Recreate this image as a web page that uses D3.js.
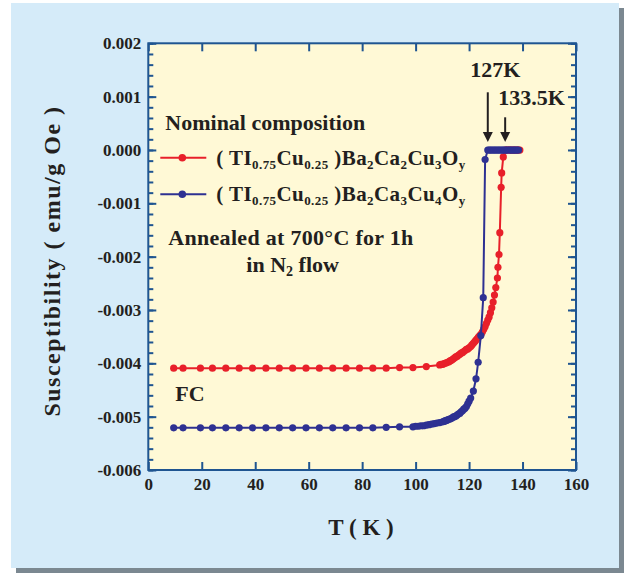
<!DOCTYPE html>
<html>
<head>
<meta charset="utf-8">
<script src="https://cdn.jsdelivr.net/npm/d3@7"></script>
<style>
  body { margin: 0; background: #fff; }
  text { font-family: "Liberation Serif", "Times New Roman", serif; font-weight: bold; fill: #231f20; }
</style>
</head>
<body>
<div id="chart"></div>
<script>
// temperatures (K) and susceptibility (emu/g Oe)
const tempCu3 = [9.5, 13, 19.5, 24, 29, 34, 39, 44, 49, 54, 59, 64, 69, 74, 79, 84, 89, 94, 99, 104,
  109, 109.5, 110, 110.5, 111, 111.5, 112, 112.5, 113, 113.5, 114, 114.5, 115, 115.5, 116, 116.5,
  117, 117.5, 118, 118.5, 119, 119.5, 120, 120.5, 121, 121.5, 122, 122.5, 123, 123.5, 124, 124.5,
  125, 125.5, 126, 126.5, 127, 127.5, 128, 128.5, 129, 129.5, 130,
  130.6, 130.8, 131.2, 131.5, 132, 132.2, 132.8,
  133.5, 134, 134.5, 135, 135.5, 136, 136.5, 137, 137.5, 138, 138.5, 139];
const chiCu3 = [-0.00409, -0.00409, -0.00409, -0.00409, -0.00409, -0.00409, -0.00409, -0.00409, -0.00409, -0.00409,
  -0.00409, -0.00409, -0.00409, -0.00409, -0.00409, -0.00409, -0.00409, -0.00408, -0.00408, -0.00406,
  -0.00403, -0.00402, -0.00402, -0.00401, -0.00400, -0.00399, -0.00398, -0.00397, -0.00395, -0.00394,
  -0.00392, -0.00390, -0.00388, -0.00387, -0.00385, -0.00383, -0.00381, -0.00380, -0.00378, -0.00376,
  -0.00374, -0.00373, -0.00371, -0.00369, -0.00366, -0.00363, -0.00360, -0.00357, -0.00354, -0.00351,
  -0.00348, -0.00345, -0.00341, -0.00336, -0.00331, -0.00325, -0.00319, -0.00313, -0.00305, -0.00296,
  -0.00285, -0.00272, -0.00258,
  -0.00240, -0.00220, -0.00196, -0.00155, -0.00070, -0.00043, -0.00013,
  0, 0, 0, 0, 0, 0, 0, 0, 0, 0, 0, 0];

const tempCu4 = [9.5, 13, 19.5, 24, 29, 34, 39, 44, 49, 54, 59, 64, 69, 74, 79, 84, 89, 94,
  99, 100, 101, 102, 103, 104, 105, 106, 107, 108, 109, 110, 110.5, 111, 111.5, 112, 112.5, 113,
  113.5, 114, 114.5, 115, 115.5, 116, 116.5, 117, 117.5, 118, 118.5, 119, 119.5, 120,
  120.6, 121.6, 122.6, 123.4, 124.4, 125.3, 126,
  127, 127.5, 128, 128.5, 129, 129.5, 130, 130.5, 131, 131.5, 132, 132.5, 133, 133.5, 134,
  134.5, 135, 135.5, 136, 136.5, 137, 137.5, 138, 138.5];
const chiCu4 = [-0.00521, -0.00521, -0.00521, -0.00521, -0.00521, -0.00521, -0.00521, -0.00521, -0.00521,
  -0.00521, -0.00521, -0.00521, -0.00521, -0.00521, -0.00521, -0.00521, -0.00520, -0.00519,
  -0.00519, -0.00518, -0.00518, -0.00517, -0.00517, -0.00516, -0.00515, -0.00514, -0.00513, -0.00512,
  -0.00511, -0.00510, -0.00509, -0.00508, -0.00507, -0.00506, -0.00505, -0.00504, -0.00503, -0.00501,
  -0.00500, -0.00499, -0.00497, -0.00495, -0.00494, -0.00491, -0.00489, -0.00486, -0.00484, -0.00481,
  -0.00476, -0.00471,
  -0.00465, -0.00452, -0.00429, -0.00398, -0.00348, -0.00277, -0.00018,
  0, 0, 0, 0, 0, 0, 0, 0, 0, 0, 0, 0, 0, 0, 0, 0, 0, 0, 0, 0, 0, 0, 0, 0, 0, 0];

const xTicks = [0, 20, 40, 60, 80, 100, 120, 140, 160];
const yTicks = [-0.006, -0.005, -0.004, -0.003, -0.002, -0.001, 0, 0.001, 0.002];
const yMinorTicks = d3.range(-0.006, 0.0021, 0.0002);

// legend text pieces: [text, isSubscript]
const labelCu3 = [["( TI", 0], ["0.75", 1], ["Cu", 0], ["0.25", 1], [" )Ba", 0], ["2", 1], ["Ca", 0], ["2", 1], ["Cu", 0], ["3", 1], ["O", 0], ["y", 1]];
const labelCu4 = [["( TI", 0], ["0.75", 1], ["Cu", 0], ["0.25", 1], [" )Ba", 0], ["2", 1], ["Ca", 0], ["3", 1], ["Cu", 0], ["4", 1], ["O", 0], ["y", 1]];

const red = '#e8202a';
const blue = '#2e3192';
const axisColor = '#1f5591';

const W = 624, H = 574;
const margin = { top: 43.3, right: 48, bottom: 104, left: 148.3 };
const width = W - margin.left - margin.right;
const height = H - margin.top - margin.bottom;

const svg = d3.select('#chart').append('svg')
  .attr('width', W)
  .attr('height', H);

// panel with drop shadow
svg.append('rect').attr('x', 16).attr('y', 8).attr('width', 608).attr('height', 565).attr('fill', '#7b8891');
svg.append('rect').attr('x', 11).attr('y', 3).attr('width', 608).attr('height', 565).attr('fill', '#d5ebf9');

const g = svg.append('g')
  .attr('transform', 'translate(' + margin.left + ',' + margin.top + ')');

const x = d3.scaleLinear().domain([0, 160]).range([0, width]);
const y = d3.scaleLinear().domain([-0.006, 0.002]).range([height, 0]);

g.append('rect')
  .attr('width', width).attr('height', height)
  .attr('fill', '#fff9d6');

// axes, ticks all pointing inward
function styleAxis(sel) {
  sel.select('.domain').remove();
  sel.selectAll('line').attr('stroke', axisColor).attr('stroke-width', 2);
  sel.selectAll('text').attr('font-size', 17).attr('fill', '#231f20');
}

g.append('g').call(d3.axisLeft(y).tickValues(yMinorTicks).tickSize(-5).tickFormat('')).call(styleAxis);
g.append('g').call(d3.axisLeft(y).tickValues(yTicks).tickSize(-8).tickPadding(7)
  .tickFormat(d => d.toFixed(3))).call(styleAxis);
g.append('g').attr('transform', 'translate(' + width + ',0)')
  .call(d3.axisRight(y).tickValues(yMinorTicks).tickSize(-5).tickFormat('')).call(styleAxis);
g.append('g').attr('transform', 'translate(' + width + ',0)')
  .call(d3.axisRight(y).tickValues(yTicks).tickSize(-8).tickFormat('')).call(styleAxis);
g.append('g').attr('transform', 'translate(0,' + height + ')')
  .call(d3.axisBottom(x).tickValues(xTicks).tickSize(-8).tickPadding(8)).call(styleAxis);
g.append('g')
  .call(d3.axisTop(x).tickValues(xTicks).tickSize(-8).tickFormat('')).call(styleAxis);

g.append('rect')
  .attr('width', width).attr('height', height)
  .attr('fill', 'none').attr('stroke', axisColor).attr('stroke-width', 2);

// curves
const line = d3.line()
  .x(d => x(d[0]))
  .y(d => y(d[1]));

const series = [
  { data: d3.zip(tempCu3, chiCu3), color: red },
  { data: d3.zip(tempCu4, chiCu4), color: blue }
];

series.forEach(s => {
  g.append('path')
    .datum(s.data)
    .attr('fill', 'none')
    .attr('stroke', s.color)
    .attr('stroke-width', 2)
    .attr('d', line);
  g.append('g').selectAll('circle')
    .data(s.data)
    .enter().append('circle')
    .attr('cx', d => x(d[0]))
    .attr('cy', d => y(d[1]))
    .attr('r', 3.6)
    .attr('fill', s.color);
});

// legend
g.append('text').attr('x', 17).attr('y', 87).attr('font-size', 22).text('Nominal composition');

function legendRow(yy, color, parts) {
  g.append('line').attr('x1', 12).attr('x2', 58).attr('y1', yy).attr('y2', yy)
    .attr('stroke', color).attr('stroke-width', 2);
  g.append('circle').attr('cx', 34).attr('cy', yy).attr('r', 3.8).attr('fill', color);
  const t = g.append('text').attr('x', 68).attr('y', yy + 7).attr('font-size', 21)
    .attr('textLength', 249).attr('lengthAdjust', 'spacing');
  let sub = false;
  parts.forEach(p => {
    const ts = t.append('tspan').text(p[0]);
    if (p[1] && !sub) { ts.attr('dy', 4).attr('font-size', 13); sub = true; }
    else if (p[1]) { ts.attr('font-size', 13); }
    else if (sub) { ts.attr('dy', -4); sub = false; }
  });
}
legendRow(y(0) + 7.7, red, labelCu3);
legendRow(y(0) + 44.3, blue, labelCu4);

g.append('text').attr('x', 20).attr('y', 202).attr('font-size', 22)
  .attr('textLength', 245).attr('lengthAdjust', 'spacing')
  .text('Annealed at 700°C for 1h');
const ann2 = g.append('text').attr('x', 98).attr('y', 229).attr('font-size', 22);
ann2.append('tspan').text('in N');
ann2.append('tspan').attr('dy', 4).attr('font-size', 14).text('2');
ann2.append('tspan').attr('dy', -4).text(' flow');

g.append('text').attr('x', 27).attr('y', 358).attr('font-size', 22).text('FC');

// Tc arrows
function arrow(T, yTop, label, lx, ly) {
  const ax = x(T);
  const tip = y(0) - 8;
  g.append('line').attr('x1', ax).attr('x2', ax).attr('y1', yTop).attr('y2', tip - 8)
    .attr('stroke', '#231f20').attr('stroke-width', 2);
  g.append('path')
    .attr('d', 'M' + (ax - 5) + ',' + (tip - 10) + 'L' + (ax + 5) + ',' + (tip - 10) + 'L' + ax + ',' + tip + 'Z')
    .attr('fill', '#231f20');
  g.append('text').attr('x', lx).attr('y', ly).attr('font-size', 22).text(label);
}
arrow(127, 49, '127K', 322, 34);
arrow(133.5, 74, '133.5K', 350, 62);

// axis titles
svg.append('text')
  .attr('transform', 'translate(60,261) rotate(-90)')
  .attr('text-anchor', 'middle')
  .attr('font-size', 24)
  .attr('letter-spacing', 1.5)
  .text('Susceptibility ( emu/g Oe )');

svg.append('text')
  .attr('x', 361).attr('y', 535)
  .attr('text-anchor', 'middle')
  .attr('font-size', 23)
  .text('T ( K )');
</script>
</body>
</html>
